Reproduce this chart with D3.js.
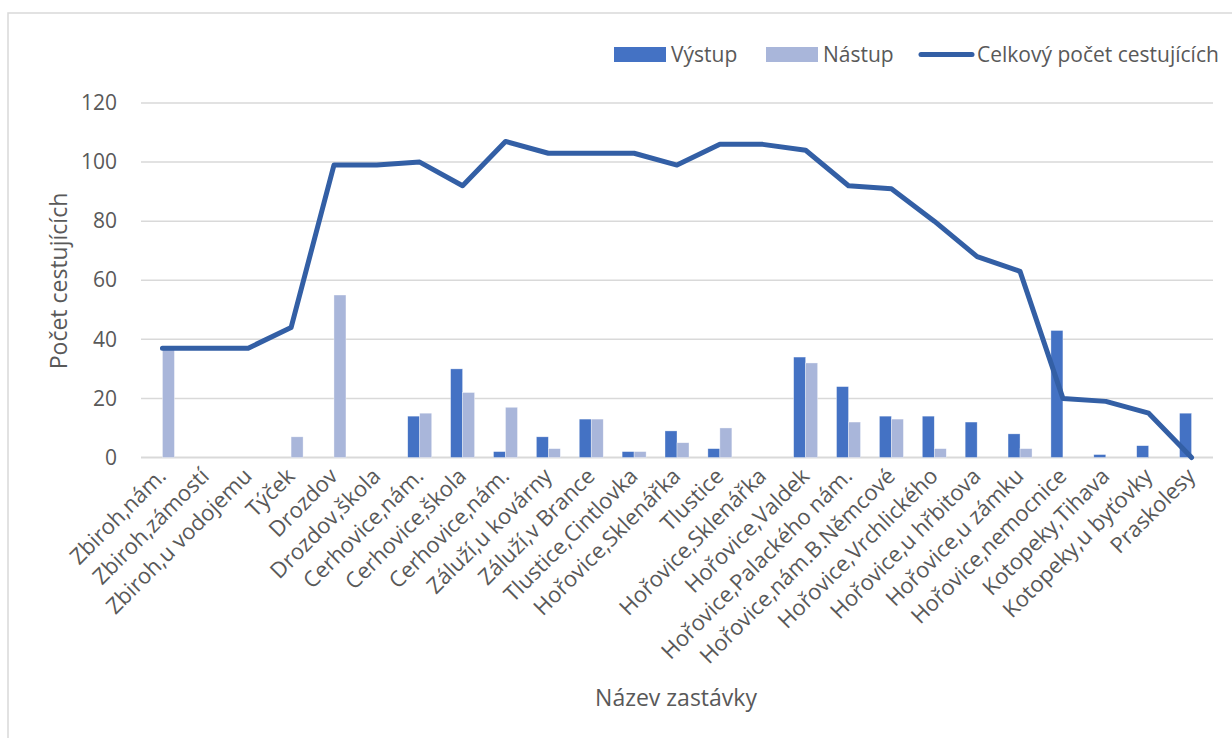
<!DOCTYPE html>
<html>
<head>
<meta charset="utf-8">
<script src="https://cdn.jsdelivr.net/npm/d3@7"></script>
<style>
  html, body { margin: 0; padding: 0; background: #fff; }
  svg { display: block; }
  text { font-family: "Open Sans", "Noto Sans", sans-serif; fill: #595959; }
</style>
</head>
<body>
<svg id="chart" width="1232" height="738"></svg>
<script>
// Stops along the route (names repeat, so bars are keyed by index)
const stops = [
  "Zbiroh,nám.", "Zbiroh,zámostí", "Zbiroh,u vodojemu", "Týček", "Drozdov",
  "Drozdov,škola", "Cerhovice,nám.", "Cerhovice,škola", "Cerhovice,nám.",
  "Záluží,u kovárny", "Záluží,v Brance", "Tlustice,Cintlovka", "Hořovice,Sklenářka",
  "Tlustice", "Hořovice,Sklenářka", "Hořovice,Valdek", "Hořovice,Palackého nám.",
  "Hořovice,nám.B.Němcové", "Hořovice,Vrchlického", "Hořovice,u hřbitova",
  "Hořovice,u zámku", "Hořovice,nemocnice", "Kotopeky,Tihava", "Kotopeky,u byťovky",
  "Praskolesy"
];
const vystup = [0, 0, 0, 0, 0, 0, 14, 30, 2, 7, 13, 2, 9, 3, 0, 34, 24, 14, 14, 12, 8, 43, 1, 4, 15];
const nastup = [37, 0, 0, 7, 55, 0, 15, 22, 17, 3, 13, 2, 5, 10, 0, 32, 12, 13, 3, 0, 3, 0, 0, 0, 0];
const celkem = [37, 37, 37, 44, 99, 99, 100, 92, 107, 103, 103, 103, 99, 106, 106, 104, 92, 91, 80, 68, 63, 20, 19, 15, 0];
const yTicks = [0, 20, 40, 60, 80, 100, 120];

const colVystup = "#4472C4";
const colNastup = "#A9B6DA";
const colLine = "#335FA5";

const svg = d3.select("#chart");

// outer chart frame
svg.append("rect")
  .attr("x", 8).attr("y", 13).attr("width", 1240).attr("height", 740)
  .attr("fill", "none").attr("stroke", "#D9D9D9").attr("stroke-width", 1.5);

const plot = { left: 141, right: 1213, top: 103, bottom: 457.5 };

const x = d3.scaleBand()
  .domain(d3.range(stops.length))
  .range([plot.left, plot.right])
  .paddingInner(0).paddingOuter(0);

const y = d3.scaleLinear().domain([0, 120]).range([plot.bottom, plot.top]);

// gridlines
svg.append("g")
  .selectAll("line")
  .data(yTicks)
  .join("line")
  .attr("x1", plot.left).attr("x2", plot.right)
  .attr("y1", d => y(d)).attr("y2", d => y(d))
  .attr("stroke", "#D9D9D9").attr("stroke-width", d => d === 0 ? 2 : 1.5);

// y axis tick labels
const yAxis = d3.axisLeft(y).tickValues(yTicks).tickSize(0).tickPadding(0);
const gy = svg.append("g").attr("transform", `translate(117,0)`).call(yAxis);
gy.select(".domain").remove();
gy.selectAll("text")
  .attr("font-size", 21)
  .attr("fill", "#595959")
  .attr("font-family", "'Open Sans', sans-serif");

// bars
const barW = 12;
const bars = svg.append("g");
bars.selectAll("rect.v")
  .data(vystup)
  .join("rect")
  .attr("class", "v")
  .attr("x", (d, i) => x(i) + x.bandwidth() / 2 - barW)
  .attr("width", barW)
  .attr("y", d => y(d))
  .attr("height", d => y(0) - y(d))
  .attr("fill", colVystup)
  .attr("stroke", "#fff").attr("stroke-width", 0.6).attr("stroke-opacity", 0.6);
bars.selectAll("rect.n")
  .data(nastup)
  .join("rect")
  .attr("class", "n")
  .attr("x", (d, i) => x(i) + x.bandwidth() / 2)
  .attr("width", barW)
  .attr("y", d => y(d))
  .attr("height", d => y(0) - y(d))
  .attr("fill", colNastup)
  .attr("stroke", "#fff").attr("stroke-width", 0.6).attr("stroke-opacity", 0.6);

// total passengers line
const line = d3.line()
  .x((d, i) => x(i) + x.bandwidth() / 2)
  .y(d => y(d));
svg.append("path")
  .datum(celkem)
  .attr("d", line)
  .attr("fill", "none")
  .attr("stroke", colLine)
  .attr("stroke-width", 5)
  .attr("stroke-linejoin", "round")
  .attr("stroke-linecap", "round");

// x axis labels, rotated
const xAxis = d3.axisBottom(x).tickSize(0).tickPadding(0).tickFormat(i => stops[i]);
const gx = svg.append("g").attr("transform", `translate(0,${plot.bottom})`).call(xAxis);
gx.select(".domain").remove();
gx.selectAll(".tick text")
  .attr("font-size", 22)
  .attr("fill", "#595959")
  .attr("font-family", "'Open Sans', sans-serif")
  .attr("text-anchor", "end")
  .attr("dy", null).attr("y", null)
  .attr("transform", "translate(5,20) rotate(-45)");

// axis titles
svg.append("text")
  .attr("transform", `translate(67,281) rotate(-90)`)
  .attr("text-anchor", "middle")
  .attr("font-size", 23)
  .text("Počet cestujících");
svg.append("text")
  .attr("x", 676).attr("y", 706)
  .attr("text-anchor", "middle")
  .attr("font-size", 23)
  .text("Název zastávky");

// legend
const legend = svg.append("g");
const legendItems = [
  { label: "Výstup", type: "rect", color: colVystup, x: 614, tx: 671 },
  { label: "Nástup", type: "rect", color: colNastup, x: 766, tx: 823 },
  { label: "Celkový počet cestujících", type: "line", color: colLine, x: 921, tx: 977 }
];
legendItems.forEach(it => {
  if (it.type === "rect") {
    legend.append("rect").attr("x", it.x).attr("y", 47).attr("width", 52).attr("height", 15).attr("fill", it.color);
  } else {
    legend.append("line").attr("x1", it.x).attr("x2", it.x + 51).attr("y1", 54.5).attr("y2", 54.5)
      .attr("stroke", it.color).attr("stroke-width", 5).attr("stroke-linecap", "round");
  }
  legend.append("text").attr("x", it.tx).attr("y", 62).attr("font-size", 21).text(it.label);
});
</script>
</body>
</html>
